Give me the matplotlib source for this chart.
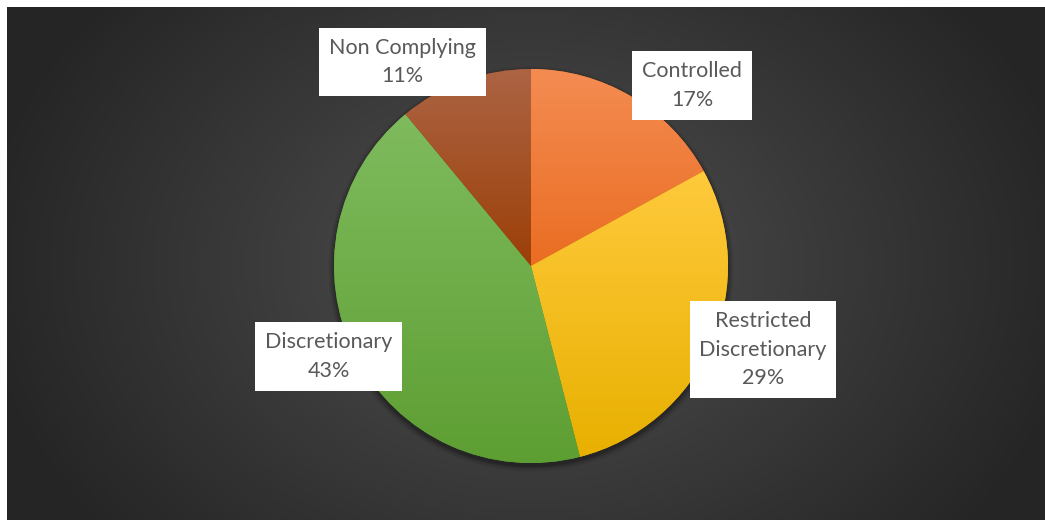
import numpy as np
import matplotlib
matplotlib.use("Agg")
import matplotlib.pyplot as plt
from matplotlib.colors import LinearSegmentedColormap

categories = ["Controlled", "Restricted\nDiscretionary", "Discretionary", "Non Complying"]
values = [17, 29, 43, 11]
top_colors = ["#f48c52", "#ffca3c", "#7fbb5e", "#ac6444"]
bottom_colors = ["#ea6d22", "#e8b000", "#5d9e32", "#9c3f08"]
label_pos = [(692, 434.5), (763, 170.5), (328.5, 163.5), (402.5, 458)]

W, H = 1045, 520
fig = plt.figure(figsize=(W / 100, H / 100), dpi=100)
fig.patch.set_facecolor("white")
ax = fig.add_axes([0, 0, 1, 1])
ax.set_xlim(0, W)
ax.set_ylim(0, H)
ax.set_aspect("equal")
ax.axis("off")

# background radial gradient (dark box)
x0, y0, x1, y1 = 7, 0, W, H - 7
yy, xx = np.mgrid[y0:y1:2, x0:x1:2]
cx, cy = 531, 254
r = np.sqrt(((xx - cx) / 560.0) ** 2 + ((yy - cy) / 420.0) ** 2)
r = np.clip(r, 0, 1)
c_in, c_out = 0x50, 0x25
v = (c_in + (c_out - c_in) * r) / 255.0
bg = np.dstack([v, v, v])
ax.imshow(bg, extent=(x0, x1, y0, y1), origin="lower", zorder=0, interpolation="bilinear")

center = (531, 254)
radius = 197

# soft shadow
for i, a in enumerate(np.linspace(0.10, 0.02, 6)):
    sh = plt.Circle((center[0], center[1] - 3), radius + 1 + i, color="black", alpha=a, zorder=1, lw=0)
    ax.add_patch(sh)

wedges, _ = ax.pie(values, startangle=90, counterclock=False, center=center, radius=radius,
                   wedgeprops=dict(linewidth=0, edgecolor="none"), frame=True)
ax.set_xlim(0, W)
ax.set_ylim(0, H)
ax.axis("off")

for w, ct, cb in zip(wedges, top_colors, bottom_colors):
    w.set_zorder(2)
    w.set_facecolor(cb)
    path = w.get_path()
    verts = path.vertices
    bx0, by0 = verts.min(axis=0)
    bx1, by1 = verts.max(axis=0)
    cmap = LinearSegmentedColormap.from_list("g", [cb, ct])
    grad = np.linspace(0, 1, 256).reshape(-1, 1)
    im = ax.imshow(grad, extent=(bx0, bx1, by0, by1), origin="lower", cmap=cmap,
                   aspect="auto", zorder=3, interpolation="bilinear")
    im.set_clip_path(w)

for lab, val, (lx, ly) in zip(categories, values, label_pos):
    ax.text(lx, ly, f"{lab}\n{val}%", ha="center", va="center", fontsize=15.5,
            family="Lato", color="#595959", linespacing=1.55, zorder=5,
            bbox=dict(boxstyle="square,pad=0.45", fc="white", ec="none"))

fig.savefig("out.png", dpi=100, facecolor="white")
